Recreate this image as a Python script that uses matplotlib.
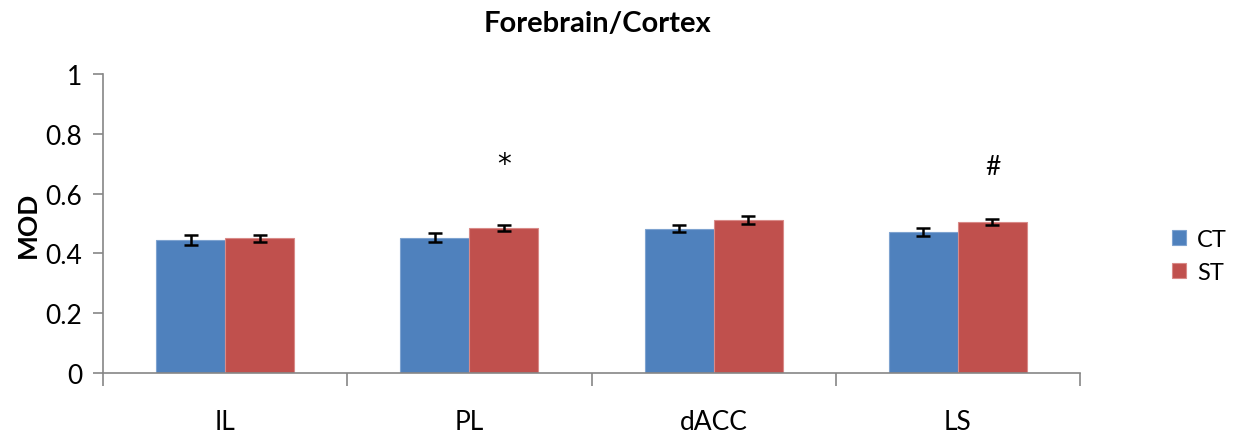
import matplotlib
matplotlib.use("Agg")
import matplotlib.pyplot as plt
import numpy as np

plt.rcParams['font.family'] = ['Lato', 'DejaVu Sans']

regions = ["IL", "PL", "dACC", "LS"]
ct_mean = [0.445, 0.453, 0.482, 0.472]
ct_err = [0.017, 0.016, 0.012, 0.013]
st_mean = [0.451, 0.485, 0.511, 0.504]
st_err = [0.012, 0.010, 0.013, 0.010]
marks = ["", "*", "", "#"]
mark_y = [0, 0.700, 0, 0.690]

fig = plt.figure(figsize=(12.36, 4.35), dpi=100)
ax = fig.add_axes([103 / 1236, 1 - 374 / 435, 977 / 1236, 299 / 435])

x = np.arange(len(regions)) + 0.5
w = 0.283
err_kw = dict(ecolor="black", elinewidth=1.8, capsize=5, capthick=1.8)
ax.bar(x - w / 2, ct_mean, w, yerr=ct_err, color="#4f81bd",
       edgecolor="#7ea3d0", linewidth=0.8, label="CT", error_kw=err_kw)
ax.bar(x + w / 2, st_mean, w, yerr=st_err, color="#c0504d",
       edgecolor="#d98a88", linewidth=0.8, label="ST", error_kw=err_kw)

# significance marks above the ST bars
for xi, s, my in zip(x, marks, mark_y):
    if s == "*":
        ax.text(xi + w / 2, my, s, ha="center", va="center", fontsize=20,
                family="DejaVu Sans")
    elif s:
        ax.text(xi + w / 2, my, s, ha="center", va="center", fontsize=19)

ax.set_xlim(0, len(regions))
ax.set_ylim(0, 1)
ax.set_yticks(np.arange(0, 1.01, 0.2))
ax.set_yticklabels(["0", "0.2", "0.4", "0.6", "0.8", "1"])
ax.set_xticks(np.arange(0, len(regions) + 1))
ax.set_xticklabels([])
ax.set_xticks(x, minor=True)
ax.set_xticklabels(regions, minor=True)
ax.tick_params(axis="x", which="minor", length=0, pad=26, labelsize=19)
ax.tick_params(axis="x", which="major", length=9, width=1.2, color="#868686")
ax.tick_params(axis="y", length=7, width=1.2, color="#868686", labelsize=19, pad=8)

for side in ["top", "right"]:
    ax.spines[side].set_visible(False)
for side in ["left", "bottom"]:
    ax.spines[side].set_color("#868686")
    ax.spines[side].set_linewidth(1.2)

ax.set_ylabel("MOD", fontsize=19, fontweight="bold", labelpad=4)
fig.text(598 / 1236, 1 - 24 / 435, "Forebrain/Cortex", ha="center", va="center",
         fontsize=21, fontweight="bold")

fig.legend(loc="center left", bbox_to_anchor=(1172 / 1236, 1 - 257 / 435),
           frameon=False, fontsize=17, handlelength=0.6, handleheight=0.6,
           labelspacing=0.5, handletextpad=0.45, borderpad=0, borderaxespad=0)

fig.savefig("out.png", dpi=100)
